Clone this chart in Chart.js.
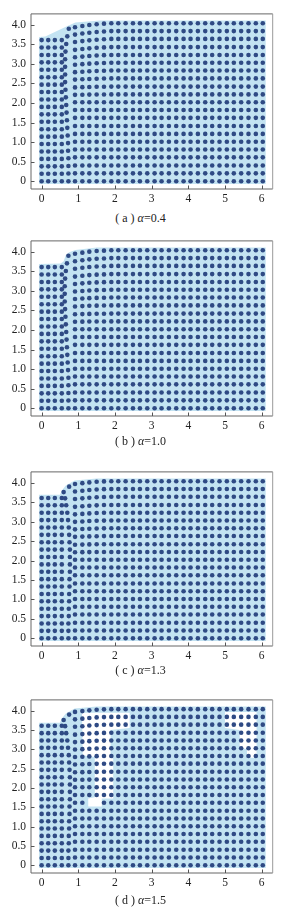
<!DOCTYPE html>
<html><head><meta charset="utf-8">
<script src="https://cdn.jsdelivr.net/npm/chart.js@4.4.0/dist/chart.umd.min.js"></script>
<style>
html,body{margin:0;padding:0;background:#fff;}
#wrap{position:relative;width:281px;height:912px;overflow:hidden;background:#fff;}
.pane{position:absolute;left:0;width:281px;}
.pane canvas{display:block;}
.cap{position:absolute;left:0;width:281px;text-align:center;font-family:"Liberation Serif","DejaVu Serif",serif;font-size:12px;color:#222;line-height:14px;white-space:pre;}
.cap i{font-style:italic;}
</style></head><body><div id="wrap"></div>
<script>
// ---- tick labels ----
const xTicks=[0,1,2,3,4,5,6];
const xTickLabels=['0','1','2','3','4','5','6'];
const yTicks=[0,0.5,1,1.5,2,2.5,3,3.5,4];
const yTickLabels=['0','0.5','1.0','1.5','2.0','2.5','3.0','3.5','4.0'];
// ---- captions ----
const panelLetters=['a','b','c','d'];
const alphaValues=['0.4','1.0','1.3','1.5'];
// ---- particle positions ----
const leftCols=[0,0.18,0.36,0.55];
const leftRows=[0,0.19,0.38,0.57,0.76,0.95,1.14,1.33,1.52,1.71,1.90,2.09,2.28,2.47,2.66,2.85,3.04,3.23,3.42,3.61];
const rightCols=[0.91,1.11,1.30,1.50,1.70,1.90,2.09,2.29,2.49,2.68,2.88,3.08,3.27,3.47,3.67,3.87,4.06,4.26,4.46,4.65,4.85,5.05,5.24,5.44,5.64,5.84,6.03];
const rightRows=[0,0.20,0.40,0.61,0.81,1.01,1.21,1.41,1.62,1.82,2.02,2.22,2.42,2.63,2.83,3.03,3.23,3.43,3.64,3.84,4.04];
// transition column (between left block and right block)
const transRowsAB=[0,0.195,0.39,0.585,0.78,0.975,1.17,1.365,1.56,1.755,1.95,2.145,2.34,2.535,2.73,2.925,3.12,3.315,3.51,3.705,3.90];
const transXa=[0.73,0.73,0.73,0.73,0.72,0.72,0.71,0.70,0.69,0.68,0.67,0.66,0.65,0.64,0.64,0.64,0.64,0.65,0.67,0.70,0.74];
const transXb=[0.73,0.73,0.73,0.73,0.73,0.72,0.71,0.70,0.69,0.68,0.67,0.66,0.65,0.64,0.63,0.63,0.63,0.64,0.66,0.69,0.73];
const transRowsCD=[0,0.19,0.38,0.57,0.76,0.95,1.14,1.33,1.52,1.71,1.90,2.09,2.28,2.47,2.66,2.85,3.04,3.23,3.42,3.60,3.76];
const transXc=[0.73,0.73,0.73,0.74,0.74,0.75,0.75,0.76,0.76,0.77,0.77,0.77,0.77,0.76,0.75,0.74,0.72,0.70,0.67,0.64,0.60];
const transXd=[0.73,0.73,0.73,0.74,0.74,0.75,0.75,0.76,0.76,0.77,0.77,0.77,0.77,0.76,0.75,0.74,0.72,0.70,0.67,0.64,0.60];
const extraCD=[[0.75,3.90]];
// downward sag of the upper rows in the first right-hand columns
const sagA=[0.10,0.07,0.045,0.025,0.01];
const sagB=[0.09,0.06,0.035,0.02,0.01];
const sagC=[0.07,0.05,0.03,0.015,0.005];
const sagD=[0.07,0.05,0.03,0.015,0.005];
// particles missing in (d)
const missingD=[[1.30,1.62],[1.50,1.62]];
// fluid region outlines
const fillA=[[-0.07,-0.07],[-0.07,3.69],[0.10,3.70],[0.72,3.98],[0.92,4.06],[1.60,4.11],[6.11,4.11],[6.11,-0.07]];
const fillB=[[-0.07,-0.07],[-0.07,3.69],[0.52,3.70],[0.60,3.76],[0.66,3.92],[0.75,3.99],[0.92,4.05],[1.50,4.11],[6.11,4.11],[6.11,-0.07]];
const fillC=[[-0.07,-0.07],[-0.07,3.69],[0.50,3.69],[0.55,3.80],[0.66,3.93],[0.90,4.06],[1.50,4.11],[6.11,4.11],[6.11,-0.07]];
const fillD=[[-0.07,-0.07],[-0.07,3.69],[0.50,3.69],[0.55,3.80],[0.66,3.93],[0.90,4.06],[1.50,4.11],[6.11,4.11],[6.11,-0.07]];
// empty (white) zones inside (d)
const holeD1=[[1.10,3.95],[2.40,3.95],[2.40,3.55],[1.88,3.50],[1.88,2.80],[1.95,2.75],[1.95,1.73],[1.64,1.73],[1.64,1.52],[1.27,1.52],[1.27,1.73],[1.45,1.76],[1.45,2.80],[1.12,2.85]];
const holeD2=[[5.00,3.97],[5.86,3.97],[5.86,2.78],[5.60,2.78],[5.60,3.00],[5.40,3.05],[5.40,3.50],[5.00,3.55]];

const panels=[
 {transX:transXa,transRows:transRowsAB,extra:[],sag:sagA,missing:[],fill:fillA,holes:[],frameTop:6.9,frameH:181.9,capY:218},
 {transX:transXb,transRows:transRowsAB,extra:[],sag:sagB,missing:[],fill:fillB,holes:[],frameTop:234.4,frameH:181.4,capY:441},
 {transX:transXc,transRows:transRowsCD,extra:extraCD,sag:sagC,missing:[],fill:fillC,holes:[],frameTop:465.4,frameH:180.3,capY:670},
 {transX:transXd,transRows:transRowsCD,extra:extraCD,sag:sagD,missing:missingD,fill:fillD,holes:[holeD1,holeD2],frameTop:692.8,frameH:179.2,capY:900}
];

const DOT='#2f4a84', FLUID='#c3e3f2';
const SERIF='"Liberation Serif","DejaVu Serif",serif';

function buildDots(p){
  const pts=[];
  leftCols.forEach(x=>leftRows.forEach(y=>pts.push({x,y})));
  p.transX.forEach((x,i)=>pts.push({x,y:p.transRows[i]}));
  p.extra.forEach(([x,y])=>pts.push({x,y}));
  rightCols.forEach((x,ci)=>rightRows.forEach(y=>{
    const s=(p.sag[ci]||0)*Math.max(0,y-2)/2.04;
    pts.push({x,y:y-s});
  }));
  return pts.filter(pt=>!p.missing.some(([mx,my])=>Math.abs(mx-pt.x)<1e-6&&Math.abs(my-pt.y)<1e-6));
}

const framePlugin={id:'frame',afterDatasetsDraw(chart){
  const {ctx,chartArea:a,scales:{x,y}}=chart;
  ctx.save();
  ctx.lineWidth=1;
  ctx.strokeStyle='#666';
  ctx.beginPath();
  ctx.moveTo(a.left,a.top);ctx.lineTo(a.right,a.top);
  ctx.moveTo(a.left,a.top);ctx.lineTo(a.left,a.bottom);ctx.lineTo(a.right,a.bottom);
  ctx.stroke();
  ctx.strokeStyle='#999';
  ctx.beginPath();ctx.moveTo(a.right,a.top);ctx.lineTo(a.right,a.bottom);ctx.stroke();
  ctx.strokeStyle='#555';
  ctx.beginPath();
  xTicks.forEach(v=>{const px=Math.round(x.getPixelForValue(v))+0.5;ctx.moveTo(px,a.bottom);ctx.lineTo(px,a.bottom-3.5);});
  yTicks.forEach(v=>{const py=Math.round(y.getPixelForValue(v))+0.5;ctx.moveTo(a.left,py);ctx.lineTo(a.left+3.5,py);});
  ctx.stroke();
  ctx.restore();
}};

const wrap=document.getElementById('wrap');
panels.forEach((p,i)=>{
  const padTop=5, bottomH=20;
  const H=Math.ceil(padTop+p.frameH+bottomH);
  const div=document.createElement('div');div.className='pane';
  div.style.top=(p.frameTop-padTop)+'px';div.style.height=H+'px';
  const cv=document.createElement('canvas');cv.width=281;cv.height=H;cv.style.width='281px';cv.style.height=H+'px';
  div.appendChild(cv);wrap.appendChild(div);
  const datasets=[
    {type:'scatter',data:buildDots(p),pointRadius:2.3,pointBackgroundColor:DOT,pointBorderWidth:0,borderWidth:0,order:0}
  ];
  p.holes.forEach(h=>datasets.push({type:'line',data:h.map(([x,y])=>({x,y})),fill:'shape',backgroundColor:'#ffffff',borderWidth:0,pointRadius:0,tension:0,order:1}));
  datasets.push({type:'line',data:p.fill.map(([x,y])=>({x,y})),fill:'shape',backgroundColor:FLUID,borderWidth:0,pointRadius:0,tension:0,order:2});
  new Chart(cv,{
    type:'scatter',
    data:{datasets},
    options:{
      responsive:false,animation:false,events:[],devicePixelRatio:1,
      layout:{padding:{top:padTop,left:0,right:281-272.7,bottom:0}},
      plugins:{legend:{display:false},tooltip:{enabled:false}},
      scales:{
        x:{type:'linear',min:-0.29,max:6.3,
          afterBuildTicks:s=>{s.ticks=xTicks.map(v=>({value:v}));},
          afterFit:s=>{s.height=bottomH;},
          ticks:{callback:v=>xTickLabels[xTicks.indexOf(v)],padding:3,font:{family:SERIF,size:11.5},color:'#222',maxRotation:0,autoSkip:false},
          grid:{display:false,drawTicks:false},border:{display:false}},
        y:{type:'linear',min:-0.2,max:4.28,
          afterBuildTicks:s=>{s.ticks=yTicks.map(v=>({value:v}));},
          afterFit:s=>{s.width=31;},
          ticks:{callback:v=>yTickLabels[yTicks.indexOf(v)],padding:5,font:{family:SERIF,size:11.5},color:'#222',autoSkip:false},
          grid:{display:false,drawTicks:false},border:{display:false}}
      }
    },
    plugins:[framePlugin]
  });
  const cap=document.createElement('div');cap.className='cap';
  cap.style.top=(p.capY-7)+'px';
  cap.innerHTML='( '+panelLetters[i]+' ) <i>α</i>='+alphaValues[i];
  wrap.appendChild(cap);
});
</script></body></html>
